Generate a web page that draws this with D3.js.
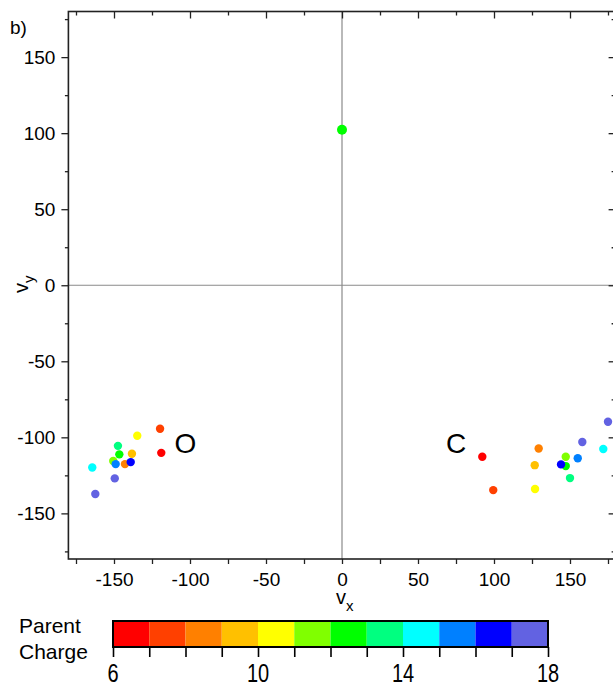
<!DOCTYPE html>
<html>
<head>
<meta charset="utf-8">
<script src="https://cdn.jsdelivr.net/npm/d3@7"></script>
<style>
  html, body { margin: 0; padding: 0; background: #fff; }
  svg { display: block; font-family: Arial, "Liberation Sans", sans-serif; }
</style>
</head>
<body>
<svg id="chart" width="613" height="689"></svg>
<script>
// ---- data ----
// O fragment cluster (vx, vy, parent charge)
const oVx     = [-119.7, -118.9, -134.7, -147.4, -146.5, -138.2, -150.5, -142.8, -148.9, -139.0, -164.3, -149.5, -162.3];
const oVy     = [ -94.4, -110.2,  -99.0, -105.6, -111.2, -110.8, -115.6, -117.6, -117.6, -116.3, -119.8, -127.0, -137.3];
const oCharge = [     7,      6,     10,     13,     12,      9,     11,      8,     15,     16,     14,     17,     18];
// C fragment cluster
const cVx     = [ 92.3,  99.5, 129.4, 126.8, 127.0, 147.2, 147.2, 144.1, 150.0, 155.1, 158.1, 171.9, 175.0];
const cVy     = [-112.8, -134.7, -107.3, -118.3, -134.0, -112.8, -118.9, -117.8, -126.8, -113.8, -103.1, -107.7, -89.8];
const cCharge = [     6,      7,      8,      9,     10,     11,     12,     16,     13,     15,     17,     14,     18];
// single point on the vy axis
const centerVx = [0];
const centerVy = [102.3];
const centerCharge = [12];

const yTicks = [-150, -100, -50, 0, 50, 100, 150];
const xTicks = [-150, -100, -50, 0, 50, 100, 150];
const minorTicks = [-175, -125, -75, -25, 25, 75, 125, 175];
const chargeBins = [7, 8, 9, 10, 11, 12, 13, 14, 15, 16, 17];
const chargeColors = ["#ff0000", "#ff4000", "#ff8000", "#ffc000", "#ffff00", "#80ff00",
                      "#00ff00", "#00ff80", "#00ffff", "#0080ff", "#0000ff", "#6262e2"];
const chargeTickLabels = [6, 10, 14, 18];
const clusterLabels = ["O", "C"];
const clusterLabelVx = [-103, 75];
const clusterLabelVy = [-110.5, -110.5];

// ---- scales ----
const svg = d3.select("#chart");
const x = d3.scaleLinear().domain([-180, 180]).range([68.4, 615.6]);
const y = d3.scaleLinear().domain([-180, 180]).range([559, 11.5]);
const cx = d3.scaleLinear().domain([6, 18]).range([113, 548]);
const color = d3.scaleThreshold().domain(chargeBins).range(chargeColors);
const fmt = d => (d < 0 ? "-" + Math.abs(d) : String(d));

const x0 = x.range()[0], x1 = x.range()[1], y0 = y.range()[1], y1 = y.range()[0];

// crosshair lines
svg.append("line").attr("x1", x(0)).attr("x2", x(0)).attr("y1", y0).attr("y2", y1)
  .attr("stroke", "#8a8a8a").attr("stroke-width", 1.2);
svg.append("line").attr("x1", x0).attr("x2", x1).attr("y1", y(0)).attr("y2", y(0))
  .attr("stroke", "#8a8a8a").attr("stroke-width", 1.2);

// axes
function styleAxis(g, labels, fs) {
  g.select(".domain").remove();
  g.selectAll(".tick line").attr("stroke", "#222").attr("stroke-width", 1.3);
  if (!labels) g.selectAll(".tick text").remove();
  else g.selectAll(".tick text").attr("font-size", fs).attr("fill", "#000").attr("font-family", "Arial, 'Liberation Sans', sans-serif");
}
// left
svg.append("g").attr("transform", `translate(${x0},0)`)
  .call(d3.axisLeft(y).tickValues(yTicks).tickSize(7).tickPadding(6).tickFormat(fmt))
  .call(g => styleAxis(g, true, 19));
svg.append("g").attr("transform", `translate(${x0},0)`)
  .call(d3.axisLeft(y).tickValues(minorTicks).tickSize(3.5))
  .call(g => styleAxis(g, false));
// bottom
svg.append("g").attr("transform", `translate(0,${y1})`)
  .call(d3.axisBottom(x).tickValues(xTicks).tickSize(5).tickPadding(8.5).tickFormat(fmt))
  .call(g => styleAxis(g, true, 19));
svg.append("g").attr("transform", `translate(0,${y1})`)
  .call(d3.axisBottom(x).tickValues(minorTicks).tickSize(5))
  .call(g => styleAxis(g, false));
// top (inward)
svg.append("g").attr("transform", `translate(0,${y0})`)
  .call(d3.axisTop(x).tickValues(xTicks).tickSize(-7))
  .call(g => styleAxis(g, false));
svg.append("g").attr("transform", `translate(0,${y0})`)
  .call(d3.axisTop(x).tickValues(minorTicks).tickSize(-4))
  .call(g => styleAxis(g, false));
// right (inward)
svg.append("g").attr("transform", `translate(${x1},0)`)
  .call(d3.axisRight(y).tickValues(yTicks).tickSize(-7))
  .call(g => styleAxis(g, false));
svg.append("g").attr("transform", `translate(${x1},0)`)
  .call(d3.axisRight(y).tickValues(minorTicks).tickSize(-4))
  .call(g => styleAxis(g, false));

// frame
svg.append("rect").attr("x", x0).attr("y", y0).attr("width", x1 - x0).attr("height", y1 - y0)
  .attr("fill", "none").attr("stroke", "#222").attr("stroke-width", 1.6);

// points
function pts(vx, vy, ch) { return vx.map((v, i) => ({ vx: v, vy: vy[i], c: ch[i] })); }
const all = pts(oVx, oVy, oCharge).concat(pts(cVx, cVy, cCharge));
svg.append("g").selectAll("circle").data(all).join("circle")
  .attr("cx", d => x(d.vx)).attr("cy", d => y(d.vy)).attr("r", 4.2)
  .attr("fill", d => color(d.c));
svg.append("g").selectAll("circle").data(pts(centerVx, centerVy, centerCharge)).join("circle")
  .attr("cx", d => x(d.vx)).attr("cy", d => y(d.vy)).attr("r", 5)
  .attr("fill", d => color(d.c));

// cluster labels
svg.append("g").selectAll("text").data(clusterLabels).join("text")
  .attr("x", (d, i) => x(clusterLabelVx[i])).attr("y", (d, i) => y(clusterLabelVy[i]))
  .attr("text-anchor", "middle").attr("font-size", 28).text(d => d);

// axis titles
const xt = svg.append("text").attr("x", 336).attr("y", 604).attr("font-size", 20);
xt.append("tspan").text("v");
xt.append("tspan").attr("font-size", 15).attr("dy", 7).text("x");
const yt = svg.append("text").attr("transform", "translate(28,293) rotate(-90)").attr("font-size", 20);
yt.append("tspan").text("v");
yt.append("tspan").attr("font-size", 15).attr("dy", 6).text("y");

// panel label
svg.append("text").attr("x", 10).attr("y", 34).attr("font-size", 19).text("b)");

// colorbar
const cb = svg.append("g");
const binEdges = [6].concat(chargeBins).concat([18]);
cb.selectAll("rect.bin").data(chargeColors).join("rect").attr("class", "bin")
  .attr("x", (d, i) => cx(binEdges[i])).attr("y", 621)
  .attr("width", (d, i) => cx(binEdges[i + 1]) - cx(binEdges[i])).attr("height", 26)
  .attr("fill", d => d);
cb.append("rect").attr("x", cx(6)).attr("y", 621).attr("width", cx(18) - cx(6)).attr("height", 26)
  .attr("fill", "none").attr("stroke", "#000").attr("stroke-width", 2);
cb.append("g").attr("transform", "translate(0,647)")
  .call(d3.axisBottom(cx).tickValues(binEdges).tickSize(10).tickFormat(""))
  .call(g => { g.select(".domain").remove(); g.selectAll(".tick line").attr("stroke", "#000").attr("stroke-width", 1.6); g.selectAll(".tick text").remove(); });
cb.selectAll("text.cl").data(chargeTickLabels).join("text").attr("class", "cl")
  .attr("transform", d => `translate(${cx(d)},681.5) scale(1,1.25)`)
  .attr("text-anchor", "middle").attr("font-size", 20).text(d => d);
svg.append("text").attr("x", 19).attr("y", 632.5).attr("font-size", 21).text("Parent");
svg.append("text").attr("x", 19).attr("y", 658.5).attr("font-size", 21).text("Charge");
</script>
</body>
</html>
